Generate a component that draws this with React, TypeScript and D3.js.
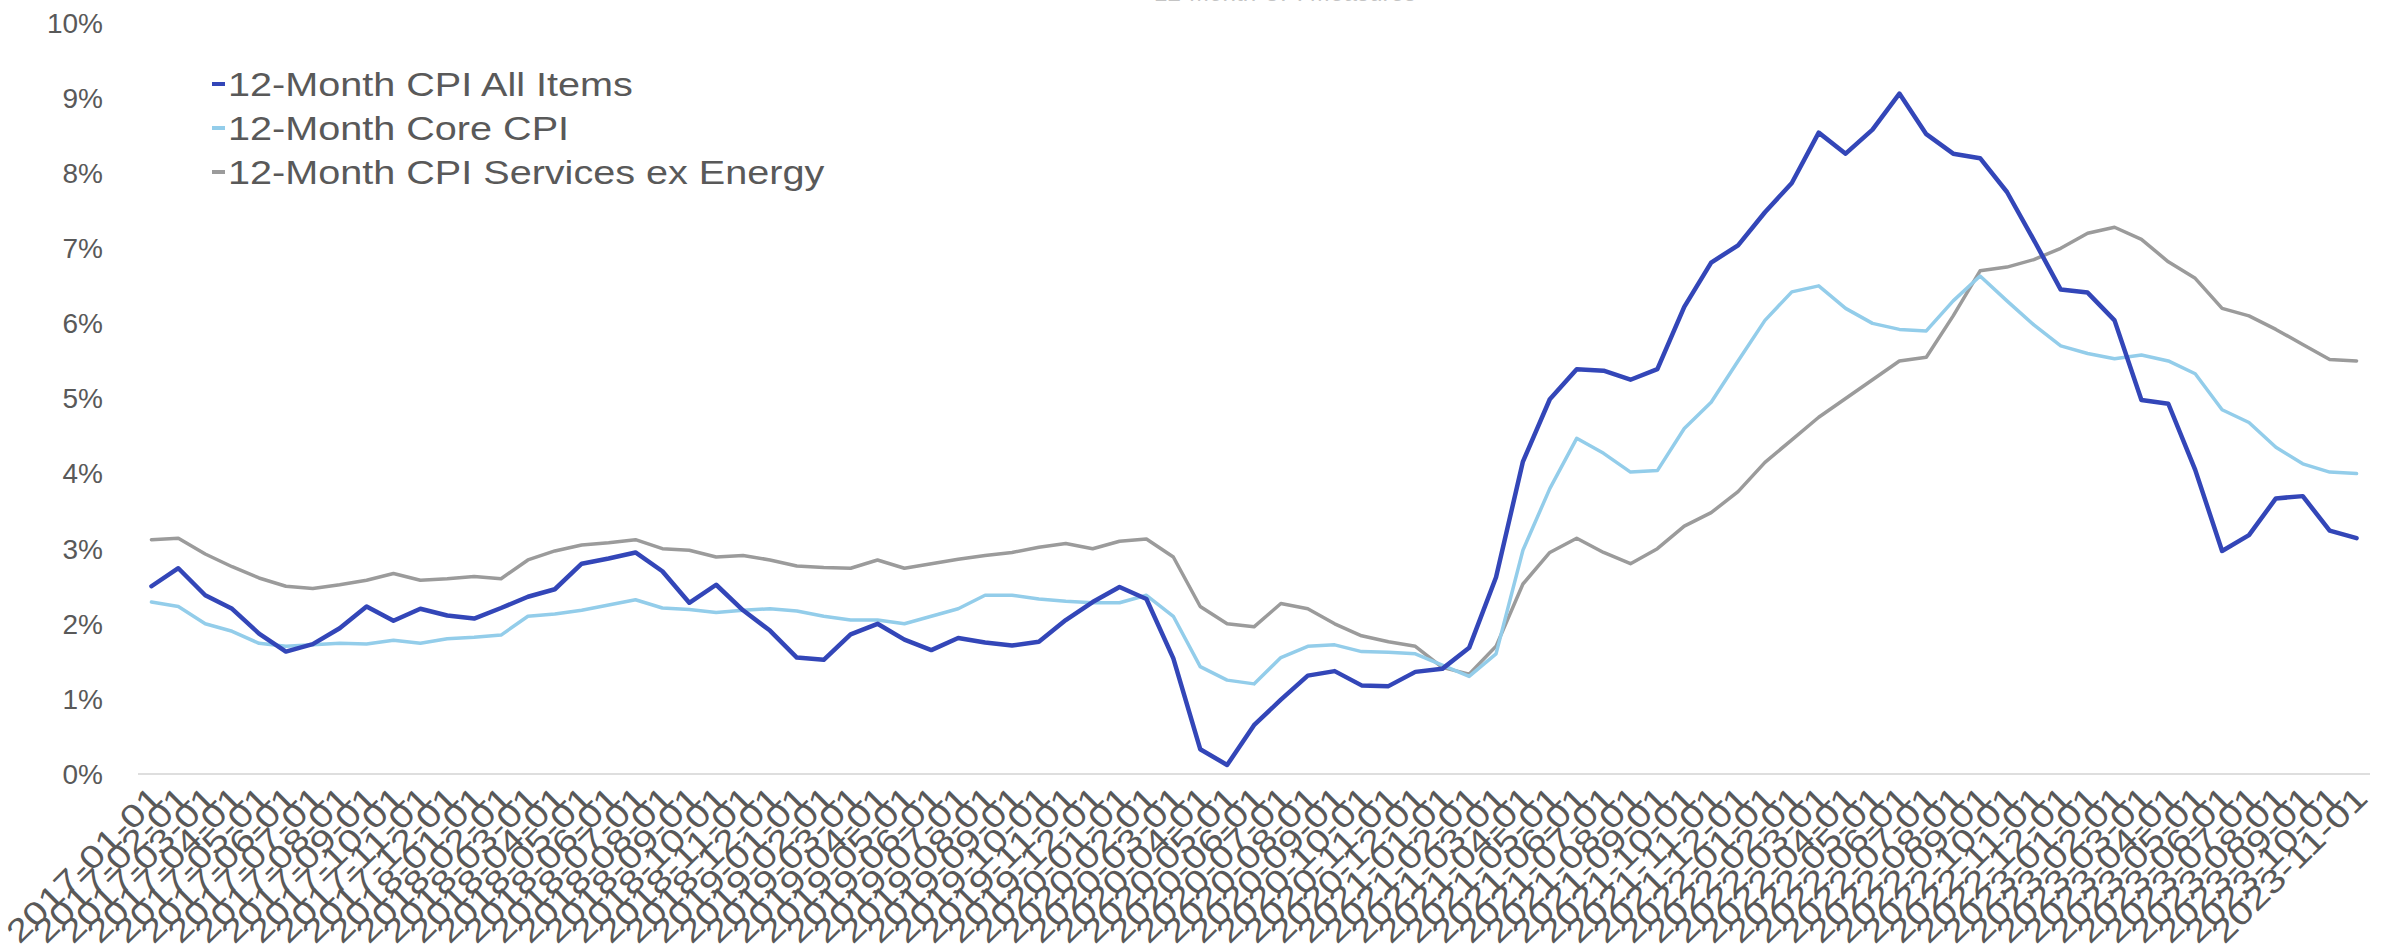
import React from "react";
import * as d3 from "d3";

// Monthly observations, January 2017 through November 2023 (year-over-year % change)
const months: string[] = (() => {
  const out: string[] = [];
  for (let y = 2017; y <= 2023; y++) {
    for (let m = 1; m <= 12; m++) {
      if (y === 2023 && m > 11) break;
      out.push(`${y}-${String(m).padStart(2, "0")}-01`);
    }
  }
  return out;
})();

const cpiAllItems: number[] = [
  2.5, 2.74, 2.38, 2.2, 1.87, 1.63, 1.73, 1.94, 2.23, 2.04, 2.2, 2.11,
  2.07, 2.21, 2.36, 2.46, 2.8, 2.87, 2.95, 2.7, 2.28, 2.52, 2.18, 1.91,
  1.55, 1.52, 1.86, 2.0, 1.79, 1.65, 1.81, 1.75, 1.71, 1.76, 2.05, 2.29,
  2.49, 2.33, 1.54, 0.33, 0.12, 0.65, 0.99, 1.31, 1.37, 1.18, 1.17, 1.36,
  1.4, 1.68, 2.62, 4.16, 4.99, 5.39, 5.37, 5.25, 5.39, 6.22, 6.81, 7.04,
  7.48, 7.87, 8.54, 8.26, 8.58, 9.06, 8.52, 8.26, 8.2, 7.75, 7.11, 6.45,
  6.41, 6.04, 4.98, 4.93, 4.05, 2.97, 3.18, 3.67, 3.7, 3.24, 3.14,
];

const coreCpi: number[] = [
  2.29, 2.23, 2.0, 1.9, 1.74, 1.7, 1.72, 1.74, 1.73, 1.78, 1.74, 1.8,
  1.82, 1.85, 2.1, 2.13, 2.18, 2.25, 2.32, 2.21, 2.19, 2.15, 2.18, 2.2,
  2.17, 2.1, 2.05, 2.05, 2.0, 2.1, 2.2, 2.38, 2.38, 2.33, 2.3, 2.28,
  2.28, 2.38, 2.1, 1.43, 1.25, 1.2, 1.55, 1.7, 1.72, 1.63, 1.62, 1.6,
  1.45, 1.3, 1.6, 2.98, 3.8, 4.47, 4.27, 4.02, 4.04, 4.6, 4.95, 5.5,
  6.04, 6.42, 6.5, 6.2, 6.0, 5.92, 5.9, 6.3, 6.63, 6.3, 5.98, 5.7,
  5.6, 5.53, 5.58, 5.5, 5.33, 4.85, 4.68, 4.35, 4.13, 4.02, 4.0,
];

const servicesExEnergy: number[] = [
  3.12, 3.14, 2.93, 2.76, 2.61, 2.5, 2.47, 2.52, 2.58, 2.67, 2.58, 2.6,
  2.63, 2.6, 2.85, 2.97, 3.05, 3.08, 3.12, 3.0, 2.98, 2.89, 2.91, 2.85,
  2.77, 2.75, 2.74, 2.85, 2.74, 2.8, 2.86, 2.91, 2.95, 3.02, 3.07, 3.0,
  3.1, 3.13, 2.89, 2.23, 2.0, 1.96, 2.27, 2.2, 2.0, 1.84, 1.76, 1.7,
  1.42, 1.33, 1.7, 2.53, 2.95, 3.14, 2.95, 2.8, 3.0, 3.3, 3.48, 3.76,
  4.15, 4.45, 4.75, 5.0, 5.25, 5.5, 5.55, 6.1, 6.7, 6.75, 6.85, 7.0,
  7.2, 7.28, 7.12, 6.82, 6.6, 6.2, 6.1, 5.92, 5.72, 5.52, 5.5,
];

const yTicks: number[] = [0, 1, 2, 3, 4, 5, 6, 7, 8, 9, 10];

const seriesNames: string[] = [
  "12-Month CPI All Items",
  "12-Month Core CPI",
  "12-Month CPI Services ex Energy",
];
const seriesColors: string[] = ["#3346b8", "#93cdea", "#9b9b9b"];
const seriesWidths: number[] = [4.5, 3.5, 3.5];
const seriesData: number[][] = [cpiAllItems, coreCpi, servicesExEnergy];

const chartTitle = "12-Month CPI Measures";

const W = 2384;
const H = 950;
const FONT = "'Liberation Sans', Arial, Helvetica, sans-serif";
const TEXT = "#595959";

export default function App() {
  const x = d3.scaleBand<string>().domain(months).range([138, 2370]).padding(0);
  const cx = (d: string) => (x(d) ?? 0) + x.bandwidth() / 2;
  const y = d3.scaleLinear().domain([0, 10]).range([774, 23]);

  const lineGen = d3
    .line<number>()
    .x((_, i) => cx(months[i]))
    .y((v) => y(v));

  return (
    <svg
      width={W}
      height={H}
      style={{ position: "absolute", left: 0, top: 0, background: "#fff" }}
      fontFamily={FONT}
    >
      <rect x={0} y={0} width={W} height={H} fill="#ffffff" />

      {/* title, sitting mostly above the top edge */}
      <text
        x={1285}
        y={1}
        textAnchor="middle"
        fontSize={30}
        textLength={262}
        lengthAdjust="spacingAndGlyphs"
        fill="#c4c4c4"
      >
        {chartTitle}
      </text>

      {/* y axis labels */}
      {yTicks.map((t) => (
        <text
          key={t}
          x={103}
          y={y(t)}
          dy="0.35em"
          textAnchor="end"
          fontSize={28}
          fill={TEXT}
        >
          {`${t}%`}
        </text>
      ))}

      {/* baseline */}
      <line x1={138} x2={2370} y1={y(0)} y2={y(0)} stroke="#dedede" strokeWidth={2} />

      {/* series lines, drawn back to front */}
      {[2, 1, 0].map((k) => (
        <path
          key={k}
          d={lineGen(seriesData[k]) ?? ""}
          fill="none"
          stroke={seriesColors[k]}
          strokeWidth={seriesWidths[k]}
          strokeLinejoin="round"
          strokeLinecap="round"
        />
      ))}

      {/* category labels */}
      {months.map((m) => (
        <text
          key={m}
          transform={`translate(${cx(m) + 5},${792}) rotate(-45)`}
          textAnchor="end"
          dy="0.35em"
          fontSize={32}
          textLength={205}
          lengthAdjust="spacingAndGlyphs"
          fill={TEXT}
        >
          {m}
        </text>
      ))}

      {/* legend */}
      {seriesNames.map((name, k) => {
        const ly = 84 + k * 44;
        return (
          <g key={name}>
            <line
              x1={212}
              x2={225}
              y1={ly}
              y2={ly}
              stroke={seriesColors[k]}
              strokeWidth={4}
            />
            <text
              transform={`translate(228,${ly}) scale(1.2,1)`}
              dy="0.35em"
              fontSize={33}
              fill={TEXT}
            >
              {name}
            </text>
          </g>
        );
      })}
    </svg>
  );
}
